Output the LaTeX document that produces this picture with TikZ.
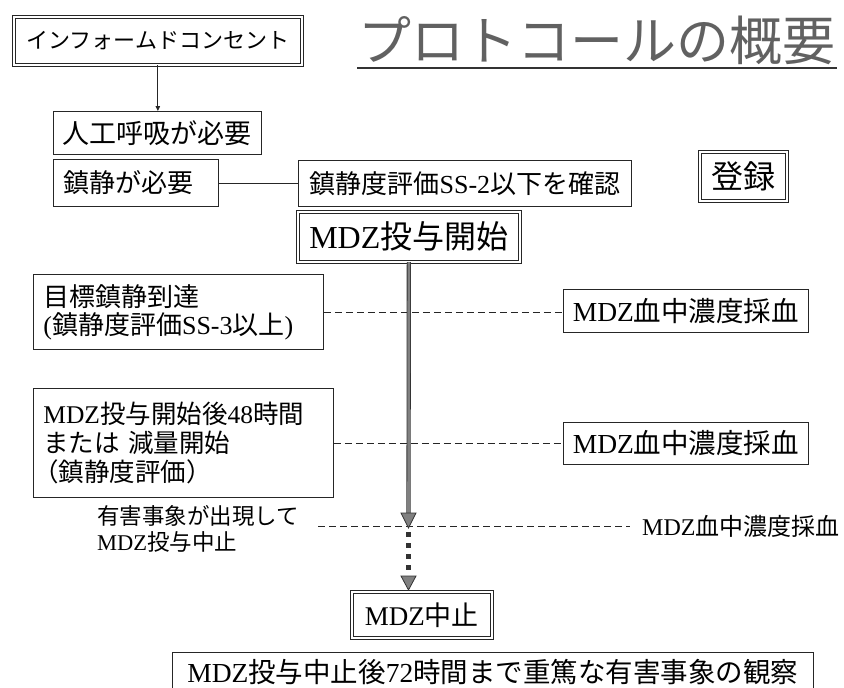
\documentclass[tikz,border=0pt]{standalone}
\usepackage{fontspec}
\setmainfont{Noto Sans CJK JP}
\newfontfamily\lser{Liberation Serif}
\usetikzlibrary{calc,arrows.meta}
\newcommand{\M}[1]{{\lser #1}}
\newcommand{\fs}[1]{\fontsize{#1}{#1}\selectfont}
\begin{document}
\begin{tikzpicture}[x=1pt,y=-1pt,
 box/.style={draw=black!85, line width=0.8pt, anchor=north west, inner sep=0pt, align=center},
 dbox/.style={box, double, double distance=2pt, line width=0.7pt},
 lbox/.style={box, align=left, inner xsep=10pt},
 dashline/.style={draw=black!85, line width=0.8pt, dash pattern=on 7pt off 4pt},
 thinline/.style={draw=black!85, line width=0.8pt},
 shaft/.style={draw=black!80, double=black!50, double distance=2.6pt, line width=0.8pt},
 headtip/.style={draw=black!80, fill=black!50, line width=0.8pt, line join=miter},
 dotshaft/.style={draw=black!80, line width=4.5pt, dash pattern=on 4.5pt off 6.5pt},
]
\useasboundingbox (0,0) rectangle (844,688);
\fill[white] (0,0) rectangle (844,688);

% title
\node[font=\fs{53}, text=black!62, inner sep=0pt] (title) at (597,40) {プロトコールの概要};
\draw[line width=1.8pt, black!80] (357,68) -- (837,68);

% boxes
\node[dbox, minimum width=288, minimum height=48, font=\fs{22}] (inf) at (13.5,16.5) {インフォームドコンセント};
\node[box, minimum width=208, minimum height=43, font=\fs{27}] (jinko) at (53,111) {人工呼吸が必要};
\node[lbox, text width=145, minimum height=47, font=\fs{26}] (chin) at (53,159) {鎮静が必要};
\node[box, minimum width=333, minimum height=46, font=\fs{26}] (ss2) at (298,160) {鎮静度評価\M{SS-2}以下を確認};
\node[dbox, minimum width=87, minimum height=49, font=\fs{32}] (toroku) at (699.5,151.5) {登録};
\node[dbox, minimum width=222, minimum height=50, font=\fs{32}] (start) at (297.5,211.5) {\M{MDZ}投与開始};
\node[lbox, text width=270, minimum height=75, font=\fontsize{26}{28}\selectfont] (goal) at (33,274) {目標鎮静到達\\\M{(}鎮静度評価\M{SS-3}以上\M{)}};
\node[box, minimum width=245, minimum height=43, font=\fs{27.5}] (b1) at (563,289) {\M{MDZ}血中濃度採血};
\node[lbox, text width=280, minimum height=109, font=\fontsize{25.5}{29}\selectfont] (later) at (33,388) {\M{MDZ}投与開始後\M{48}時間\\または 減量開始\\\hspace*{-0.4em}（鎮静度評価）};
\node[box, minimum width=245, minimum height=42, font=\fs{27.5}] (b2) at (563,422) {\M{MDZ}血中濃度採血};
\node[anchor=west, inner sep=0pt, align=left, font=\fontsize{22.5}{26}\selectfont] (yugai) at (97,529) {有害事象が出現して\\\M{MDZ}投与中止};
\node[anchor=west, inner sep=0pt, font=\fs{24}] (b3) at (642,526) {\M{MDZ}血中濃度採血};
\node[dbox, minimum width=140, minimum height=46, font=\fs{27}] (stop) at (351.5,591.5) {\M{MDZ}中止};
\node[box, minimum width=641, minimum height=40, font=\fs{27.5}] (obs) at (172,652) {\M{MDZ}投与中止後\M{72}時間まで重篤な有害事象の観察};

% connectors
\draw[thinline, -{Triangle[length=5pt,width=4.5pt]}] (inf.south) -- (inf.south |- jinko.north);
\draw[thinline] (chin.east) -- (chin.east -| ss2.west);

\draw[dashline] (goal.east) -- (goal.east -| b1.west);
\draw[dashline] (later.east) -- (later.east -| b2.west);
\coordinate (d3) at (318,526);
\draw[dashline, shorten >=12pt] (d3) -- (b3.west);

\coordinate (tipA) at (408.5,528);
\draw[shaft] (start.south) -- ($(tipA)+(0,-13)$);
\filldraw[headtip] ($(tipA)+(-7.5,-15)$) -- (tipA) -- ($(tipA)+(7.5,-15)$) -- cycle;

\path (stop.north -| tipA) ++(0,-1.5) coordinate (tipB);
\draw[dotshaft] ($(tipA)+(0,4)$) -- ($(tipB)+(0,-13)$);
\filldraw[headtip] ($(tipB)+(-7.5,-14)$) -- (tipB) -- ($(tipB)+(7.5,-14)$) -- cycle;
\end{tikzpicture}
\end{document}
